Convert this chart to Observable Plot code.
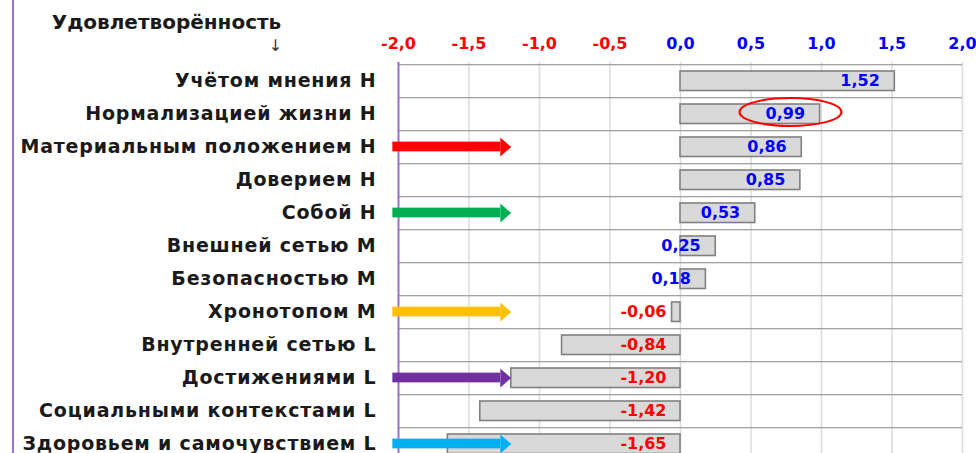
<!DOCTYPE html>
<html>
<head>
<meta charset="utf-8">
<script src="https://cdn.jsdelivr.net/npm/d3@7"></script>
<script src="https://cdn.jsdelivr.net/npm/@observablehq/plot@0.6"></script>
<style>
  html, body { margin: 0; padding: 0; background: #fff; }
  #wrap { position: relative; width: 976px; height: 453px; overflow: hidden; background: #fff; }
  #edge { position: absolute; left: 12px; top: 0; width: 2px; height: 453px; background: #9b6fd0; }
</style>
</head>
<body>
<div id="wrap"><div id="edge"></div></div>
<script>
// ---- data ----
const title = "Удовлетворённость";
const categories = [
  "Учётом мнения Н",
  "Нормализацией жизни Н",
  "Материальным положением Н",
  "Доверием Н",
  "Собой Н",
  "Внешней сетью М",
  "Безопасностью М",
  "Хронотопом М",
  "Внутренней сетью L",
  "Достижениями L",
  "Социальными контекстами L",
  "Здоровьем и самочувствием L"
];
const values = [1.52, 0.99, 0.86, 0.85, 0.53, 0.25, 0.18, -0.06, -0.84, -1.20, -1.42, -1.65];
const tickValues = [-2, -1.5, -1, -0.5, 0, 0.5, 1, 1.5, 2];
const arrowRows = ["Материальным положением Н", "Собой Н", "Хронотопом М", "Достижениями L", "Здоровьем и самочувствием L"];
const arrowColors = ["#ff0000", "#00b050", "#ffc000", "#7030a0", "#00b0f0"];
const arrowTip = -1.2;
const highlighted = "Нормализацией жизни Н";

// ---- build ----
const data = categories.map((c, i) => ({cat: c, value: values[i]}));
const pos = data.filter(d => d.value >= 0);
const neg = data.filter(d => d.value < 0);
const arrows = arrowRows.map((c, i) => ({cat: c, color: arrowColors[i]}));
const fmt1 = d => d.toFixed(1).replace(".", ",");
const fmt2 = d => d.toFixed(2).replace(".", ",");

const W = 976, H = 453, mTop = 62, step = 33.27;
const mBottom = H - (mTop + step * categories.length);
const blue = "#0000ff", red = "#ff0000";

const headSymbol = {draw(ctx) { ctx.moveTo(-11, -9.5); ctx.lineTo(0, 0); ctx.lineTo(-11, 9.5); ctx.closePath(); }};
const ellipseSymbol = {draw(ctx) {
  const rx = 51, ry = 14, k = 0.5523;
  ctx.moveTo(rx, 0);
  ctx.bezierCurveTo(rx, ry * k, rx * k, ry, 0, ry);
  ctx.bezierCurveTo(-rx * k, ry, -rx, ry * k, -rx, 0);
  ctx.bezierCurveTo(-rx, -ry * k, -rx * k, -ry, 0, -ry);
  ctx.bezierCurveTo(rx * k, -ry, rx, -ry * k, rx, 0);
  ctx.closePath();
}};

const chart = Plot.plot({
  width: W,
  height: H,
  marginTop: mTop,
  marginLeft: 398,
  marginRight: 14,
  marginBottom: mBottom,
  style: {fontFamily: "'DejaVu Sans', sans-serif", fontWeight: "bold", background: "white", overflow: "hidden"},
  x: {domain: [-2, 2], axis: null},
  y: {domain: categories, padding: 0, axis: null},
  color: {type: "identity"},
  marks: [
    Plot.ruleX(tickValues.filter(d => d !== -2), {x: d => d, stroke: "#dcdcdc", strokeWidth: 1.5}),
    Plot.barX(categories, {y: d => d, x1: -2, x2: 2, fill: "#a3a3a3", insetBottom: step - 1.6}),
    Plot.ruleX([-2], {x: d => d, stroke: "#9b6fd0", strokeWidth: 2}),
    Plot.barX(data, {y: "cat", x1: 0, x2: "value", fill: "#d9d9d9", stroke: "#808080", strokeWidth: 1.6, insetTop: 7, insetBottom: 6.5}),
    Plot.text(pos, {y: "cat", x: "value", text: d => fmt2(d.value), textAnchor: "end", dx: -15, fill: blue, fontSize: 16}),
    Plot.text(neg, {y: "cat", x: 0, text: d => fmt2(d.value), textAnchor: "end", dx: -14, fill: red, fontSize: 16}),
    Plot.text(tickValues, {x: d => d, text: fmt1, frameAnchor: "top", lineAnchor: "middle", dy: -19, fill: d => d < 0 ? red : blue, fontSize: 16}),
    Plot.text(categories, {y: d => d, text: d => d, frameAnchor: "left", textAnchor: "end", dx: -22, fill: "#1a1a1a", fontSize: 19}),
    Plot.barX(arrows, {y: "cat", x1: -2.04, x2: arrowTip - 0.075, fill: "color", insetTop: (step - 10) / 2, insetBottom: (step - 10) / 2}),
    Plot.dot(arrows, {y: "cat", x: arrowTip, symbol: headSymbol, fill: "color", stroke: "none"}),
    Plot.dot([highlighted], {y: d => d, x: 0.78, dy: -2, symbol: ellipseSymbol, fill: "none", stroke: red, strokeWidth: 2}),
    Plot.text([title], {text: d => d, frameAnchor: "top-left", textAnchor: "middle", lineAnchor: "middle", dx: -232, dy: -40, fill: "#1a1a1a", fontSize: 20}),
    Plot.text(["↓"], {text: d => d, frameAnchor: "top-left", textAnchor: "middle", lineAnchor: "middle", dx: -123, dy: -17, fill: "#333", fontSize: 16, fontWeight: "normal"})
  ]
});
// slightly wider spacing for the category labels (the reference text is stretched)
d3.select(chart).selectAll("text")
  .filter(function() { return categories.includes(this.textContent); })
  .style("letter-spacing", "0.8px");
document.getElementById("wrap").appendChild(chart);
</script>
</body>
</html>
